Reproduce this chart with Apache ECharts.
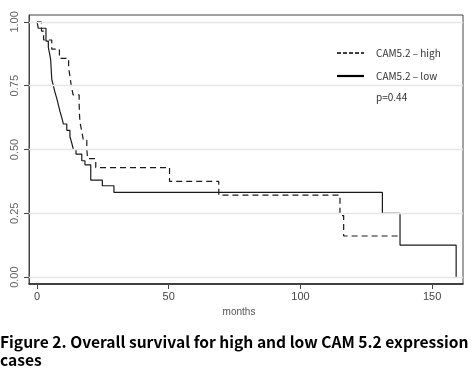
<!DOCTYPE html>
<html>
<head>
<meta charset="utf-8">
<script src="https://cdn.jsdelivr.net/npm/echarts@6/dist/echarts.min.js"></script>
<style>html,body{margin:0;padding:0;background:#fff}#c{width:472px;height:392px}</style>
</head>
<body>
<div id="c"></div>
<script>
// ---- data ----
const xTicks = [0, 50, 100, 150];
const yTicks = [0, 0.25, 0.5, 0.75, 1];
const highName = 'CAM5.2 \u2013 high';
const lowName = 'CAM5.2 \u2013 low';
const pText = 'p=0.44';
const xTitle = 'months';
const caption = 'Figure 2. Overall survival for high and low CAM 5.2 expression\ncases';

// Kaplan-Meier steps: time (months) and survival from that time on
const highTime = [0, 1.7, 2.5, 5.6, 8.5, 12.0, 12.5, 13.0, 13.7, 16.0, 16.1, 16.3, 17.0, 17.6, 18.9, 19.2, 22.3, 50.3, 69.0, 115.0, 116.4, 137.8];
const highSurv = [1.0, 0.964, 0.929, 0.893, 0.857, 0.821, 0.786, 0.750, 0.714, 0.679, 0.643, 0.607, 0.571, 0.536, 0.500, 0.464, 0.429, 0.375, 0.321, 0.241, 0.161, 0.161];

const lowTime = [0, 0.5, 3.4, 4.3, 4.8, 5.2, 5.6, 6.2, 6.8, 7.5, 8.1, 8.7, 9.4, 10.0, 11.3, 12.5, 13.2, 13.8, 14.8, 17.0, 18.2, 20.4, 24.8, 29.2, 131.1, 137.8, 159.1];
const lowSurv = [1.0, 0.975, 0.925, 0.900, 0.875, 0.850, 0.775, 0.750, 0.725, 0.700, 0.675, 0.650, 0.625, 0.600, 0.575, 0.550, 0.525, 0.500, 0.482, 0.456, 0.440, 0.380, 0.358, 0.332, 0.250, 0.125, 0.0];

const zip = (a, b) => a.map((v, i) => [v, b[i]]);
const legendFont = {fontFamily: 'Noto Sans CJK KR', fontSize: 10, fill: '#333', verticalAlign: 'middle'};

const chart = echarts.init(document.getElementById('c'), null, {renderer: 'canvas'});
chart.setOption({
  animation: false,
  backgroundColor: '#fff',
  grid: {left: 29, right: 9, top: 15, bottom: 108, show: true, borderColor: '#444', borderWidth: 1, backgroundColor: 'transparent'},
  title: {
    text: caption, left: 0, top: 333, padding: 0,
    textStyle: {fontFamily: 'Noto Sans CJK KR', fontWeight: 'bold', fontSize: 15.6, color: '#000', lineHeight: 18}
  },
  graphic: [
    {type: 'line', shape: {x1: 337, y1: 53, x2: 364, y2: 53}, style: {stroke: '#000', lineWidth: 1.3, lineDash: [4, 2]}},
    {type: 'text', x: 376, y: 53, style: Object.assign({text: highName}, legendFont)},
    {type: 'line', shape: {x1: 337, y1: 76, x2: 364, y2: 76}, style: {stroke: '#000', lineWidth: 2.2}},
    {type: 'text', x: 376, y: 76, style: Object.assign({text: lowName}, legendFont)},
    {type: 'text', x: 376, y: 97, style: Object.assign({text: pText}, legendFont)}
  ],
  xAxis: {
    type: 'value', min: -3.04, max: 161.7,
    name: xTitle, nameLocation: 'middle', nameGap: 20,
    nameTextStyle: {fontFamily: 'Liberation Sans', fontSize: 10, color: '#555', padding: [0, 14, 0, 0]},
    axisLine: {show: true, onZero: false, lineStyle: {color: '#222', width: 1.5}},
    axisTick: {show: true, length: 5, customValues: xTicks, lineStyle: {color: '#444'}},
    axisLabel: {customValues: xTicks, fontFamily: 'Liberation Sans', fontSize: 11, color: '#444', margin: 7},
    splitLine: {show: false}
  },
  yAxis: {
    type: 'value', min: -0.027, max: 1.027,
    axisLine: {show: true, onZero: false, lineStyle: {color: '#444', width: 1}},
    axisTick: {show: true, length: 5, customValues: yTicks, lineStyle: {color: '#444'}},
    axisLabel: {customValues: yTicks, rotate: 90, fontFamily: 'Liberation Sans', fontSize: 11, color: '#666', margin: 9,
      formatter: v => v.toFixed(2)},
    splitLine: {show: false}
  },
  series: [
    {
      type: 'line', name: '__grid', data: [], z: 1, silent: true,
      markLine: {
        silent: true, symbol: 'none', label: {show: false},
        lineStyle: {color: '#e6e6e6', width: 1.3, type: 'solid'},
        data: yTicks.map(v => ({yAxis: v}))
      }
    },
    {
      type: 'line', name: highName, step: 'end', showSymbol: false, symbol: 'none', z: 3,
      data: zip(highTime, highSurv),
      lineStyle: {color: '#1a1a1a', width: 1.2, type: [6, 4]}
    },
    {
      type: 'line', name: lowName, step: 'end', showSymbol: false, symbol: 'none', z: 4,
      data: zip(lowTime, lowSurv),
      lineStyle: {color: '#1a1a1a', width: 1.2, type: 'solid'}
    }
  ]
});
</script>
</body>
</html>
